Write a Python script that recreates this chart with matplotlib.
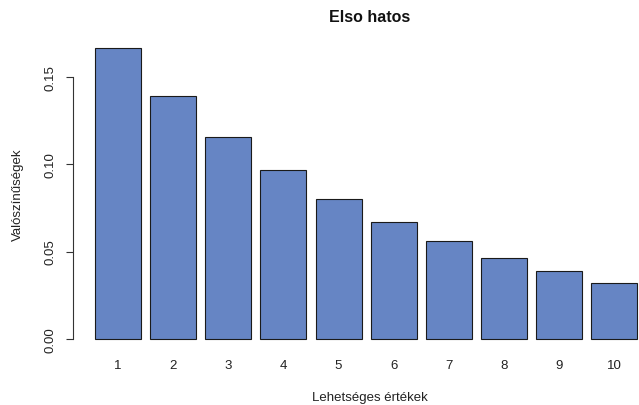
import matplotlib
matplotlib.use("Agg")
import matplotlib.pyplot as plt

categories = ["1", "2", "3", "4", "5", "6", "7", "8", "9", "10"]
values = [0.1667, 0.1389, 0.1157, 0.0965, 0.0804, 0.0670, 0.0558, 0.0465, 0.0388, 0.0323]
yticks = [0.00, 0.05, 0.10, 0.15]
ytick_labels = ["0.00", "0.05", "0.10", "0.15"]

plt.rcParams['font.family'] = ['Liberation Sans', 'DejaVu Sans']

W, H = 639, 406
fig = plt.figure(figsize=(W / 100, H / 100), dpi=100)

# plot region in pixel coords (R-like layout)
left_px, right_px = 73.3, 659.0
top_px, bot_px = 37.2, 351.6
ax = fig.add_axes([left_px / W, 1 - bot_px / H, (right_px - left_px) / W, (bot_px - top_px) / H])

x = [0.7 + 1.2 * i for i in range(len(values))]
ax.bar(x, values, width=1.0, color="#6685C4", edgecolor="#1a1a1a", linewidth=0.8)

ax.set_xlim(-0.272, 12.472)
ax.set_ylim(-0.00667, 0.17333)

for s in ["top", "right", "bottom"]:
    ax.spines[s].set_visible(False)
ax.spines["left"].set_bounds(0, 0.15)
ax.spines["left"].set_linewidth(0.8)
ax.spines["left"].set_color("#333333")

ax.set_yticks(yticks)
ax.set_yticklabels(ytick_labels, rotation=90, va="center", fontsize=9.5, color="#222222")
ax.tick_params(axis="y", length=5, width=0.8, pad=7, color="#333333")

ax.set_xticks(x)
ax.set_xticklabels(categories, fontsize=9.5, color="#222222")
ax.tick_params(axis="x", length=0, pad=6)

fig.text(18 / W, 1 - 195 / H, "Valószínűségek", rotation=90, ha="center", va="center", fontsize=9.5, color="#222222")
fig.text(370 / W, 1 - 398 / H, "Lehetséges értékek", ha="center", va="center", fontsize=9.5, color="#222222")
fig.text(370 / W, 1 - 18 / H, "Elso hatos", ha="center", va="center", fontsize=11.5, fontweight="bold", color="#111111")

fig.savefig("out.png", dpi=100)
